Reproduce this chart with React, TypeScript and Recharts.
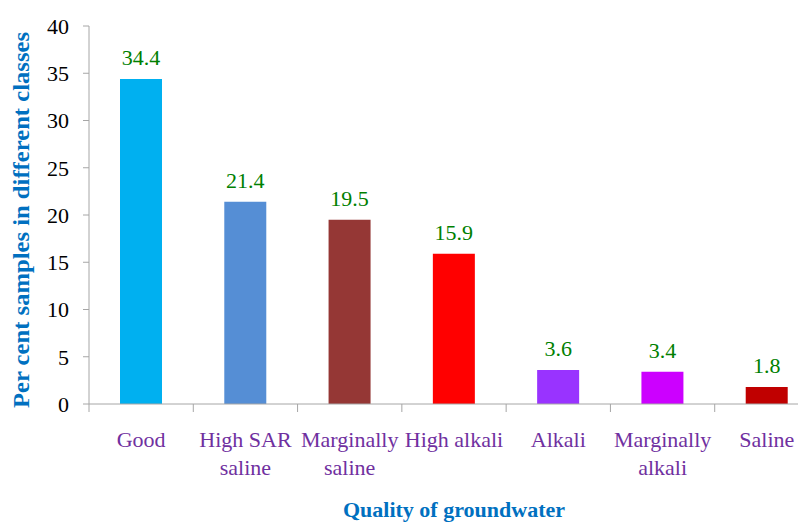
import React from 'react';
import { BarChart, Bar, XAxis, YAxis, Cell, LabelList, Label } from 'recharts';

const categories = ['Good', 'High SAR\nsaline', 'Marginally\nsaline', 'High alkali', 'Alkali', 'Marginally\nalkali', 'Saline'];
const percents = [34.4, 21.4, 19.5, 15.9, 3.6, 3.4, 1.8];
const barColors = ['#00B0F0', '#558ED5', '#953735', '#FF0000', '#9933FF', '#CC00FF', '#C00000'];
const yTicks = [0, 5, 10, 15, 20, 25, 30, 35, 40];

const data = categories.map((name, i) => ({ name, value: percents[i] }));

const SERIF = 'Liberation Serif, DejaVu Serif, serif';
const AXIS_GRAY = '#A6A6A6';

const CategoryTick = (props: any) => {
    const { x, y, payload } = props;
    const half = payload && payload.offset ? payload.offset : 52;
    const lines = String(payload.value).split('\n');
    return (
        <g>
            <line x1={x - half} x2={x - half} y1={y} y2={y + 8} stroke={AXIS_GRAY} />
            <text x={x} y={y} textAnchor="middle" fill="#7030A0" style={{ fontSize: 22, fontFamily: SERIF }}>
                {lines.map((l, i) => (
                    <tspan key={i} x={x} dy={i === 0 ? 43 : 28}>{l}</tspan>
                ))}
            </text>
        </g>
    );
};

// rotated axis title, stretched a bit to match the original's length
const YTitle = (props: any) => {
    const { viewBox } = props;
    const cy = viewBox.y + viewBox.height / 2 + 5;
    const cx = viewBox.x + 21;
    return (
        <text x={cx} y={cy} transform={`rotate(-90, ${cx}, ${cy})`} textAnchor="middle" dominantBaseline="central"
            textLength={376} lengthAdjust="spacingAndGlyphs"
            fill="#0070C0" style={{ fontSize: 23, fontWeight: 'bold', fontFamily: SERIF }}>
            Per cent samples in different classes
        </text>
    );
};

const XTitle = (props: any) => {
    const { viewBox } = props;
    const cx = viewBox.x + viewBox.width / 2;
    return (
        <text x={cx} y={viewBox.y + 113} textAnchor="middle" fill="#0070C0" style={{ fontSize: 22, fontWeight: 'bold', fontFamily: SERIF }}>
            Quality of groundwater
        </text>
    );
};

export default function App() {
    return (
        <div style={{ position: 'fixed', left: 0, top: 0, width: 798, height: 523, overflow: 'hidden', background: '#fff', fontFamily: SERIF }}>
            <BarChart width={822} height={523} data={data} margin={{ top: 26, right: 3, bottom: 0, left: 0 }}>
                <XAxis
                    dataKey="name"
                    height={119}
                    interval={0}
                    tickSize={0}
                    tickMargin={0}
                    tickLine={false}
                    axisLine={{ stroke: AXIS_GRAY }}
                    tick={<CategoryTick />}
                >
                    <Label content={<XTitle />} />
                </XAxis>
                <YAxis
                    width={89}
                    domain={[0, 40]}
                    ticks={yTicks}
                    interval={0}
                    tickSize={6}
                    tickMargin={14}
                    axisLine={{ stroke: AXIS_GRAY }}
                    tickLine={{ stroke: AXIS_GRAY }}
                    tick={{ fill: '#000', fontSize: 22, fontFamily: SERIF }}
                >
                    <Label content={<YTitle />} />
                </YAxis>
                <Bar dataKey="value" barSize={42} isAnimationActive={false}>
                    {data.map((d, i) => (
                        <Cell key={d.name} fill={barColors[i]} />
                    ))}
                    <LabelList dataKey="value" position="top" offset={14} fill="#008000" fontSize={22} fontFamily={SERIF} />
                </Bar>
            </BarChart>
        </div>
    );
}
